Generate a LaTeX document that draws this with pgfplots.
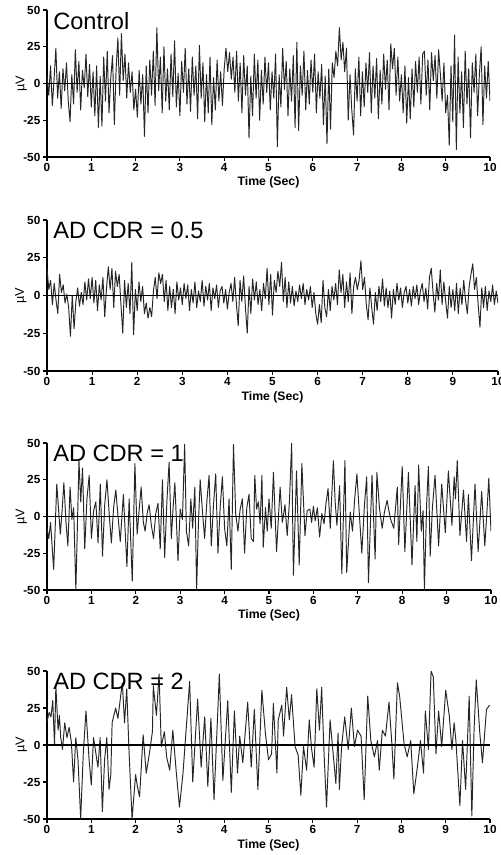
\documentclass[border=0pt]{standalone}
\usepackage{fontspec}
\setmainfont{Liberation Sans}
\usepackage{pgfplots}
\pgfplotsset{compat=1.18}

\pgfplotsset{
  eeg/.style={
    scale only axis,
    clip mode=individual,
    xmin=0, xmax=10, ymin=-50, ymax=50,
    axis x line*=bottom, axis y line*=left,
    xtick={0,1,2,3,4,5,6,7,8,9,10},
    ytick={-50,-25,0,25,50},
    tick align=outside,
    major tick length=3pt,
    tick style={black, line width=0.8pt},
    axis line style={black, line width=0.9pt},
    /pgf/number format/assume math mode=true,
    tick label style={font=\fontsize{8.8}{9}\selectfont\bfseries},
    xticklabel style={yshift=1.5pt},
    yticklabel style={xshift=1.5pt},
  },
  trace/.style={black!85, line width=0.72pt, line join=round},
  zeroline/.style={black, line width=0.9pt},
}
\newcommand{\paneltext}[1]{%
  \node[anchor=north west, inner sep=0pt, font=\fontsize{17.7}{20}\selectfont]
    at ([xshift=4.5pt,yshift=-1.5pt]rel axis cs:0,1) {#1};
  \node[rotate=90, font=\fontsize{9.5}{10}\selectfont] at (rel axis cs:-0.058,0.5) {µV};
  \node[font=\fontsize{9.2}{10}\selectfont\bfseries] at (rel axis cs:0.5,-0.175) {Time (Sec)};
}

\begin{document}
\begin{tikzpicture}
\useasboundingbox (0,0) rectangle (375pt,-641.25pt);

% Control
\begin{axis}[eeg, at={(35.25pt,-7.5pt)}, anchor=north west, width=332.25pt, height=110.25pt]
\addplot[trace] coordinates {
(0.00,5)(0.04,-8)(0.08,12)(0.12,-15)(0.16,3)(0.20,24)(0.24,-10)(0.28,8)(0.32,-17)(0.36,10)(0.40,-5)(0.44,14)(0.48,-12)(0.52,-26)(0.56,6)(0.60,-14)(0.64,23)(0.68,-6)(0.72,15)(0.76,-18)(0.80,9)(0.84,-3)(0.88,20)(0.92,-9)(0.96,13)
(1.00,-16)(1.04,8)(1.08,-22)(1.12,12)(1.16,-30)(1.20,5)(1.24,-29)(1.28,18)(1.32,-12)(1.36,22)(1.40,-20)(1.44,4)(1.48,19)(1.52,-28)(1.56,10)(1.60,31)(1.64,-8)(1.68,34)(1.72,2)(1.76,20)(1.80,-10)(1.84,14)(1.88,-6)(1.92,8)(1.96,-18)
(2.00,-4)(2.04,-23)(2.08,9)(2.12,-14)(2.16,6)(2.20,-36)(2.24,12)(2.28,-20)(2.32,16)(2.36,-8)(2.40,22)(2.44,-15)(2.48,38)(2.52,-5)(2.56,18)(2.60,-20)(2.64,25)(2.68,-12)(2.72,10)(2.76,-18)(2.80,20)(2.84,-9)(2.88,29)(2.92,-16)(2.96,7)
(3.00,-22)(3.04,15)(3.08,-6)(3.12,24)(3.16,-14)(3.20,10)(3.24,-19)(3.28,18)(3.32,-8)(3.36,12)(3.40,-24)(3.44,26)(3.48,-10)(3.52,14)(3.56,-26)(3.60,6)(3.64,-20)(3.68,18)(3.72,-28)(3.76,4)(3.80,-18)(3.84,16)(3.88,-12)(3.92,8)(3.96,-15)
(4.00,10)(4.04,24)(4.08,8)(4.12,21)(4.16,3)(4.20,18)(4.24,-6)(4.28,22)(4.32,-12)(4.36,14)(4.40,-20)(4.44,19)(4.48,-8)(4.52,12)(4.56,-37)(4.60,5)(4.64,-22)(4.68,20)(4.72,-10)(4.76,16)(4.80,-25)(4.84,9)(4.88,-14)(4.92,18)(4.96,-6)
(5.00,14)(5.04,-18)(5.08,8)(5.12,-10)(5.16,20)(5.20,-43)(5.24,6)(5.28,-16)(5.32,24)(5.36,-4)(5.40,15)(5.44,-22)(5.48,10)(5.52,-12)(5.56,19)(5.60,-30)(5.64,28)(5.68,-32)(5.72,12)(5.76,-8)(5.80,22)(5.84,-18)(5.88,9)(5.92,-14)(5.96,16)
(6.00,-6)(6.04,20)(6.08,-20)(6.12,8)(6.16,-10)(6.20,13)(6.24,-28)(6.28,5)(6.32,-41)(6.36,10)(6.40,-31)(6.44,14)(6.48,4)(6.52,22)(6.56,12)(6.60,38)(6.64,16)(6.68,28)(6.72,8)(6.76,24)(6.80,-25)(6.84,6)(6.88,-18)(6.92,-35)(6.96,10)
(7.00,-12)(7.04,18)(7.08,-22)(7.12,8)(7.16,-16)(7.20,14)(7.24,-6)(7.28,21)(7.32,-20)(7.36,12)(7.40,-10)(7.44,17)(7.48,-24)(7.52,9)(7.56,-14)(7.60,20)(7.64,-4)(7.68,16)(7.72,-18)(7.76,27)(7.80,10)(7.84,24)(7.88,-8)(7.92,18)(7.96,-12)
(8.00,6)(8.04,-20)(8.08,12)(8.12,-27)(8.16,4)(8.20,-24)(8.24,10)(8.28,-16)(8.32,15)(8.36,-6)(8.40,18)(8.44,-14)(8.48,20)(8.52,22)(8.56,-8)(8.60,16)(8.64,-18)(8.68,21)(8.72,2)(8.76,19)(8.80,-10)(8.84,23)(8.88,6)(8.92,-12)(8.96,14)
(9.00,-20)(9.04,-8)(9.08,-42)(9.12,12)(9.16,-26)(9.20,33)(9.24,-45)(9.28,18)(9.32,-20)(9.36,8)(9.40,-30)(9.44,22)(9.48,-14)(9.52,10)(9.56,-37)(9.60,14)(9.64,-6)(9.68,20)(9.72,-22)(9.76,6)(9.80,25)(9.84,-28)(9.88,12)(9.92,-10)(9.96,15)(10.00,-12)
};
\addplot[zeroline] coordinates {(0,0)(10,0)};
\paneltext{Control}
\end{axis}

% AD CDR = 0.5
\begin{axis}[eeg, at={(35.25pt,-165pt)}, anchor=north west, width=338.25pt, height=113.25pt]
\addplot[trace] coordinates {
(0.00,18)(0.04,4)(0.08,10)(0.12,-6)(0.16,8)(0.20,-3)(0.24,-12)(0.28,14)(0.32,2)(0.36,7)(0.40,-5)(0.44,1)(0.48,-8)(0.52,-27)(0.56,0)(0.60,-22)(0.64,-4)(0.68,5)(0.72,-7)(0.76,2)(0.80,-6)(0.84,9)(0.88,-3)(0.92,11)(0.96,-2)
(1.00,12)(1.04,-5)(1.08,10)(1.12,-10)(1.16,7)(1.20,-3)(1.24,12)(1.28,-14)(1.32,5)(1.36,19)(1.40,4)(1.44,18)(1.48,-8)(1.52,16)(1.56,6)(1.60,14)(1.64,-6)(1.68,-25)(1.72,10)(1.76,-8)(1.80,8)(1.84,-12)(1.88,22)(1.92,-26)(1.96,4)
(2.00,-10)(2.04,9)(2.08,-4)(2.12,6)(2.16,-12)(2.20,-5)(2.24,-15)(2.28,-8)(2.32,-14)(2.36,3)(2.40,12)(2.44,-2)(2.48,15)(2.52,8)(2.56,14)(2.60,-4)(2.64,10)(2.68,-10)(2.72,6)(2.76,-8)(2.80,4)(2.84,-12)(2.88,9)(2.92,-3)(2.96,5)
(3.00,-6)(3.04,8)(3.08,-2)(3.12,7)(3.16,-10)(3.20,4)(3.24,-5)(3.28,9)(3.32,-8)(3.36,3)(3.40,-4)(3.44,10)(3.48,-7)(3.52,6)(3.56,-3)(3.60,8)(3.64,-10)(3.68,5)(3.72,-2)(3.76,7)(3.80,-8)(3.84,3)(3.88,6)(3.92,-5)(3.96,4)
(4.00,-9)(4.04,2)(4.08,8)(4.12,-4)(4.16,12)(4.20,-6)(4.24,-20)(4.28,10)(4.32,-4)(4.36,13)(4.40,-8)(4.44,-25)(4.48,6)(4.52,-12)(4.56,11)(4.60,-3)(4.64,9)(4.68,-6)(4.72,4)(4.76,-10)(4.80,8)(4.84,-2)(4.88,18)(4.92,-6)(4.96,14)
(5.00,-13)(5.04,10)(5.08,2)(5.12,16)(5.16,6)(5.20,22)(5.24,-4)(5.28,12)(5.32,-8)(5.36,9)(5.40,-5)(5.44,6)(5.48,-7)(5.52,3)(5.56,-4)(5.60,7)(5.64,-2)(5.68,8)(5.72,-6)(5.76,4)(5.80,-3)(5.84,6)(5.88,-8)(5.92,2)(5.96,-12)
(6.00,-19)(6.04,-6)(6.08,-18)(6.12,10)(6.16,-8)(6.20,-14)(6.24,4)(6.28,-10)(6.32,6)(6.36,-3)(6.40,8)(6.44,-6)(6.48,17)(6.52,2)(6.56,14)(6.60,-8)(6.64,9)(6.68,-4)(6.72,15)(6.76,-12)(6.80,6)(6.84,12)(6.88,4)(6.92,10)(6.96,23)
(7.00,4)(7.04,12)(7.08,-6)(7.12,-16)(7.16,5)(7.20,-8)(7.24,-19)(7.28,2)(7.32,-10)(7.36,6)(7.40,-4)(7.44,11)(7.48,-7)(7.52,5)(7.56,-8)(7.60,3)(7.64,-15)(7.68,4)(7.72,-6)(7.76,8)(7.80,-3)(7.84,5)(7.88,-8)(7.92,2)(7.96,6)
(8.00,-5)(8.04,4)(8.08,-7)(8.12,6)(8.16,-2)(8.20,7)(8.24,-6)(8.28,3)(8.32,8)(8.36,-4)(8.40,5)(8.44,-9)(8.48,12)(8.52,18)(8.56,2)(8.60,-11)(8.64,8)(8.68,-3)(8.72,17)(8.76,-6)(8.80,9)(8.84,-4)(8.88,-15)(8.92,6)(8.96,-8)
(9.00,4)(9.04,-10)(9.08,8)(9.12,-12)(9.16,5)(9.20,-6)(9.24,10)(9.28,-3)(9.32,-12)(9.36,6)(9.40,14)(9.44,21)(9.48,4)(9.52,12)(9.56,-6)(9.60,-21)(9.64,5)(9.68,-8)(9.72,6)(9.76,-10)(9.80,3)(9.84,-4)(9.88,7)(9.92,-6)(9.96,3)(10.00,-5)
};
\addplot[zeroline] coordinates {(0,0)(10,0)};
\paneltext{AD CDR = 0.5}
\end{axis}

% AD CDR = 1
\begin{axis}[eeg, at={(35.25pt,-332.25pt)}, anchor=north west, width=333pt, height=110.25pt]
\addplot[trace] coordinates {
(0.00,-8)(0.04,-15)(0.08,-4)(0.15,-36)(0.22,22)(0.26,5)(0.30,-12)(0.34,4)(0.38,23)(0.43,-5)(0.47,-20)(0.52,20)(0.56,-2)(0.60,6)(0.65,-50)(0.72,38)(0.76,10)(0.80,33)(0.85,-22)(0.90,12)(0.95,28)
(1.00,-15)(1.05,4)(1.10,10)(1.15,-18)(1.20,22)(1.25,-27)(1.30,8)(1.35,25)(1.40,2)(1.45,-18)(1.50,6)(1.55,18)(1.60,0)(1.65,-17)(1.72,15)(1.80,-34)(1.85,12)(1.92,-44)(1.98,36)
(2.03,-12)(2.08,6)(2.12,20)(2.17,-4)(2.21,-10)(2.26,3)(2.30,8)(2.35,-6)(2.40,-15)(2.45,2)(2.50,9)(2.55,-22)(2.60,25)(2.65,-28)(2.70,10)(2.75,37)(2.80,-15)(2.84,6)(2.88,23)(2.95,-30)
(3.00,5)(3.05,-2)(3.10,49)(3.14,-10)(3.19,-20)(3.24,12)(3.28,-8)(3.33,20)(3.37,-50)(3.41,-5)(3.45,25)(3.50,4)(3.55,-15)(3.60,10)(3.65,28)(3.70,-20)(3.75,8)(3.80,29)(3.85,-25)(3.90,6)(3.95,27)
(4.00,-8)(4.05,-20)(4.10,12)(4.15,-36)(4.20,49)(4.25,2)(4.30,-10)(4.35,5)(4.40,12)(4.45,-25)(4.50,6)(4.55,15)(4.60,-15)(4.65,-17)(4.68,28)(4.72,5)(4.76,10)(4.80,-5)(4.84,28)(4.87,-21)(4.92,6)(4.96,-10)
(5.00,12)(5.05,-8)(5.10,30)(5.17,-24)(5.25,20)(5.30,-4)(5.36,8)(5.41,-13)(5.46,10)(5.51,50)(5.55,-40)(5.62,31)(5.68,-33)(5.74,36)(5.81,-13)(5.86,4)(5.92,5)(5.96,-4)
(6.00,7)(6.04,-3)(6.09,6)(6.14,-14)(6.19,2)(6.24,-5)(6.28,8)(6.33,19)(6.38,-8)(6.45,38)(6.49,10)(6.53,-6)(6.59,21)(6.64,-39)(6.71,38)(6.75,-38)(6.83,3)(6.88,-10)(6.93,12)(6.98,29)
(7.03,4)(7.09,-25)(7.15,8)(7.20,27)(7.24,-45)(7.32,28)(7.39,-29)(7.43,30)(7.49,5)(7.55,-8)(7.60,3)(7.66,11)(7.70,4)(7.74,-2)(7.81,-8)(7.85,6)(7.89,20)(7.92,-19)
(8.00,34)(8.06,-24)(8.14,30)(8.22,-33)(8.29,21)(8.33,-17)(8.37,35)(8.43,-10)(8.47,4)(8.50,-50)(8.55,8)(8.59,34)(8.63,-27)(8.68,6)(8.74,28)(8.82,-20)(8.89,22)(8.97,-11)
(9.04,31)(9.12,-6)(9.17,27)(9.20,12)(9.24,38)(9.30,-13)(9.38,18)(9.45,-17)(9.49,15)(9.56,-30)(9.64,22)(9.71,-24)(9.79,17)(9.86,-20)(9.91,4)(9.95,26)(10.00,-10)
};
\addplot[zeroline] coordinates {(0,0)(10,0)};
\paneltext{AD CDR = 1}
\end{axis}

% AD CDR = 2
\begin{axis}[eeg, at={(35.25pt,-503.25pt)}, anchor=north west, width=332.25pt, height=111pt]
\addplot[trace] coordinates {
(0.00,16)(0.05,22)(0.09,19)(0.13,30)(0.17,0)(0.20,40)(0.25,10)(0.28,20)(0.31,5)(0.35,-3)(0.40,15)(0.45,5)(0.50,12)(0.55,2)(0.60,-25)(0.65,5)(0.70,-10)(0.76,-50)(0.82,-5)(0.88,23)(0.95,-10)
(1.00,-27)(1.05,5)(1.10,-5)(1.15,-15)(1.20,5)(1.25,-45)(1.30,-10)(1.35,5)(1.40,-30)(1.44,-20)(1.47,15)(1.55,25)(1.60,18)(1.65,30)(1.70,42)(1.75,15)(1.80,38)(1.85,-3)(1.92,-50)
(2.00,-20)(2.04,-28)(2.09,-35)(2.17,7)(2.24,-19)(2.30,-8)(2.38,9)(2.40,40)(2.47,20)(2.53,48)(2.58,-1)(2.65,9)(2.70,-8)(2.77,-17)(2.84,10)(2.92,-19)(2.99,-42)
(3.07,-19)(3.14,10)(3.22,43)(3.29,-25)(3.40,31)(3.48,-15)(3.56,19)(3.63,-28)(3.70,18)(3.77,-37)(3.86,26)(3.89,48)(3.97,-24)
(4.08,30)(4.16,-32)(4.23,23)(4.30,-19)(4.35,6)(4.42,-12)(4.53,29)(4.61,-15)(4.68,24)(4.76,-30)(4.85,37)(4.93,8)
(5.00,-10)(5.07,-6)(5.11,28)(5.19,-19)(5.22,17)(5.30,27)(5.34,6)(5.41,39)(5.47,17)(5.52,34)(5.60,-1)(5.67,-7)(5.73,-34)(5.79,-1)(5.86,-17)(5.92,17)(5.97,-2)
(6.03,-15)(6.09,38)(6.15,10)(6.20,39)(6.25,-3)(6.31,-42)(6.39,17)(6.46,-6)(6.52,-26)(6.57,8)(6.60,-30)(6.65,-1)(6.72,19)(6.80,-3)(6.87,25)(6.94,-1)
(7.01,10)(7.09,6)(7.16,-37)(7.24,33)(7.31,3)(7.39,-8)(7.46,3)(7.50,-17)(7.57,10)(7.64,6)(7.72,29)(7.78,3)(7.83,-23)(7.91,42)(7.96,33)
(8.06,1)(8.13,-8)(8.21,3)(8.28,-33)(8.36,-15)(8.43,3)(8.50,-19)(8.54,23)(8.61,-3)(8.67,50)(8.72,46)(8.78,-6)(8.84,23)(8.91,-1)
(9.00,37)(9.08,20)(9.14,-3)(9.19,15)(9.23,3)(9.32,-41)(9.38,3)(9.45,-30)(9.53,33)(9.59,-48)(9.64,10)(9.69,44)(9.77,8)(9.83,-12)(9.92,24)(9.99,27)
};
\addplot[zeroline] coordinates {(0,0)(10,0)};
\paneltext{AD CDR = 2}
\end{axis}
\end{tikzpicture}
\end{document}
